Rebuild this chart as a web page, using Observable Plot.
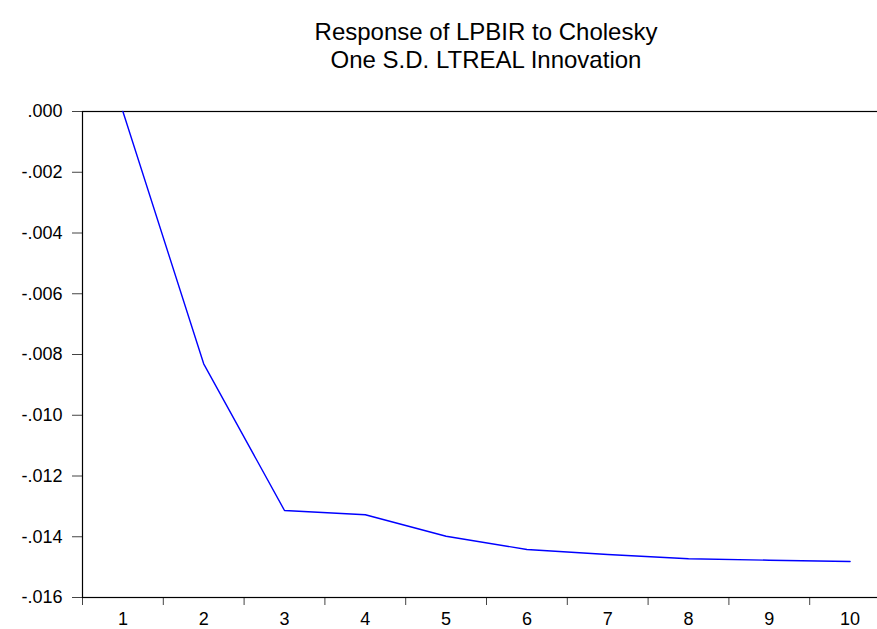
<!DOCTYPE html>
<html>
<head>
<meta charset="utf-8">
<script src="https://cdn.jsdelivr.net/npm/d3@7"></script>
<script src="https://cdn.jsdelivr.net/npm/@observablehq/plot@0.6"></script>
<style>
  html, body { margin: 0; padding: 0; background: #fff; overflow: hidden; }
  #title {
    box-sizing: border-box;
    width: 877px; height: 90px;
    padding-top: 18px; padding-left: 95px;
    text-align: center;
    font-family: "Liberation Sans", Arial, sans-serif;
    font-size: 24px; line-height: 28px; color: #000;
  }
  #chart svg { display: block; }
</style>
</head>
<body>
<div id="title">Response of LPBIR to Cholesky<br>One S.D. LTREAL Innovation</div>
<div id="chart"></div>
<script>
const periods = [1, 2, 3, 4, 5, 6, 7, 8, 9, 10];
const response = [0.0, -0.008306, -0.013136, -0.013277, -0.013982, -0.014420, -0.014584, -0.014726, -0.014772, -0.014815];
const yTicks = [0, -0.002, -0.004, -0.006, -0.008, -0.010, -0.012, -0.014, -0.016];
const xLabels = periods;
const xBoundaries = [0.5, 1.5, 2.5, 3.5, 4.5, 5.5, 6.5, 7.5, 8.5, 9.5];

const data = periods.map((p, i) => ({period: p, value: response[i]}));
const fmtY = d => (d < 0 ? "-" : "") + Math.abs(d).toFixed(3).replace(/^0/, "");

const chart = Plot.plot({
  width: 877,
  height: 539,
  marginLeft: 82,
  marginRight: -13,
  marginTop: 21,
  marginBottom: 32,
  style: {fontFamily: "'Liberation Sans', Arial, sans-serif", fontSize: "18px", color: "#000", background: "#fff"},
  x: {domain: [0.5, 10.5], axis: null},
  y: {domain: [-0.016, 0], axis: null},
  marks: [
    Plot.axisY(yTicks, {tickSize: 10, tickPadding: 10, tickFormat: fmtY, stroke: "#444", fill: "#000", fontSize: 18, label: null}),
    Plot.axisX(xBoundaries, {tickSize: 8, tickFormat: () => "", stroke: "#444", label: null}),
    Plot.axisX(xLabels, {tickSize: 0, tickPadding: 15, tickFormat: d => String(d), fill: "#000", fontSize: 18, label: null}),
    Plot.frame({stroke: "#000", strokeWidth: 1.2}),
    Plot.line(data, {x: "period", y: "value", stroke: "#0000ff", strokeWidth: 1.4})
  ]
});
document.getElementById("chart").appendChild(chart);
</script>
</body>
</html>
